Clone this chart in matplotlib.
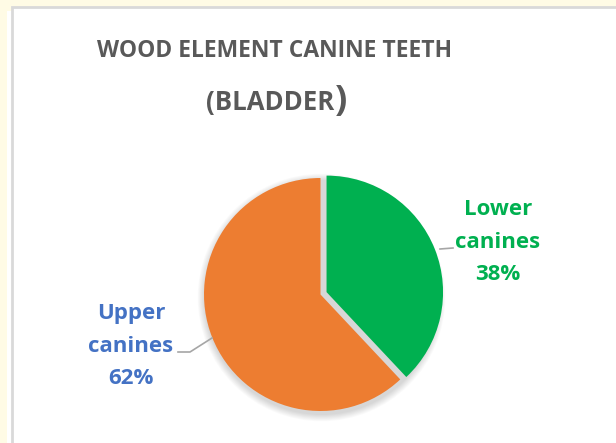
import matplotlib
matplotlib.use("Agg")
import matplotlib.pyplot as plt
from matplotlib.patches import Rectangle, Circle

# Data
categories = ["Lower canines", "Upper canines"]
shares = [38, 62]
slice_colors = ["#00B050", "#ED7D31"]
label_colors = ["#00B050", "#4472C4"]
title_line1 = "WOOD ELEMENT CANINE TEETH"
title_line2 = "(BLADDER"
title_close = ")"

W, H = 616, 443
fig = plt.figure(figsize=(W / 100, H / 100), dpi=100)
fig.patch.set_facecolor("#FFFBE5")
ax = fig.add_axes([0, 0, 1, 1])

FONT = "Open Sans"

# pie geometry (pixel units, y up)
cx, cy, r = 320.5, H - 294.5, 116.5

wedges, _ = ax.pie(shares, colors=slice_colors, startangle=90, counterclock=False,
                   center=(cx, cy), radius=r, explode=[6.5, 0],
                   wedgeprops=dict(linewidth=0), frame=True)
for w in wedges:
    w.set_zorder(2)
ax.set_xlim(0, W)
ax.set_ylim(0, H)
ax.set_aspect("equal")
ax.axis("off")

# chart area panel with thin grey border
ax.add_patch(Rectangle((7, -5), W, H - 4 + 5 - 7, facecolor="white", edgecolor="none", zorder=0))
ax.add_patch(Rectangle((12, -5), W, H - 7 + 5, facecolor="white", edgecolor="#D9D9D9",
                       linewidth=2, zorder=0.5))

# soft shadow under the pie
for i in range(8):
    ax.add_patch(Circle((cx + 1, cy - 3), r + 1 + i * 0.9, facecolor="black",
                        alpha=0.02, edgecolor="none", zorder=1))

# data labels with leader lines
lab_kw = dict(fontsize=16, fontweight="bold", family=FONT, ha="center", va="center",
              linespacing=1.72, zorder=5)
ax.text(498, H - 242, f"{categories[0].replace(' ', chr(10))}\n{shares[0]}%",
        color=label_colors[0], **lab_kw)
ax.text(131, H - 346, f"{categories[1].replace(' ', chr(10))}\n{shares[1]}%",
        color=label_colors[1], **lab_kw)
ax.plot([440, 453], [H - 249, H - 248], color="#A6A6A6", lw=1.2, zorder=4)
ax.plot([178, 190, 212], [H - 352, H - 352, H - 338], color="#A6A6A6", lw=1.2, zorder=4)

# title
tkw = dict(fontweight="bold", family=FONT, color="#595959", zorder=5)
ax.text(275, H - 57, title_line1, fontsize=16.5, ha="center", va="baseline", **tkw)
t2 = ax.text(270, H - 110, title_line2, fontsize=18.5, ha="center", va="baseline", **tkw)
fig.canvas.draw()
bb = t2.get_window_extent()
ax.text(bb.x1 + 0.5, H - 111, title_close, fontsize=26, ha="left", va="baseline", **tkw)

fig.savefig("out.png", dpi=100, facecolor=fig.get_facecolor())
